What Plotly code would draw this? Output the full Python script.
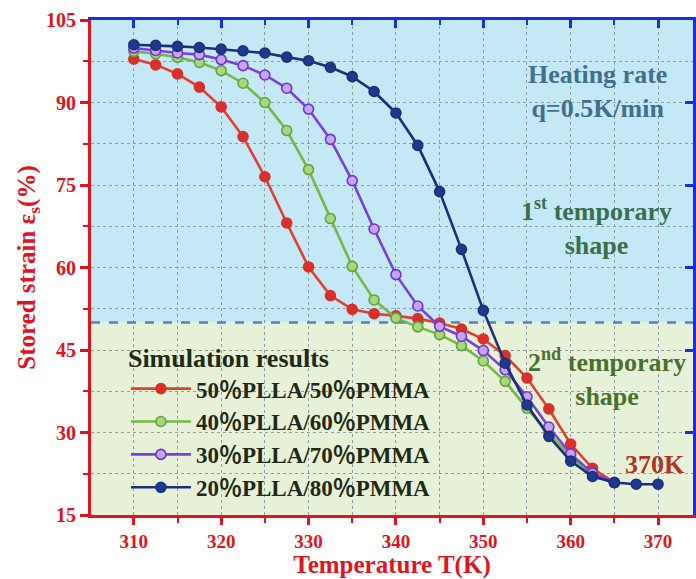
import plotly.graph_objects as go

temps = [310 + 2.5 * i for i in range(25)]  # 310 ... 370

s50 = [97.9, 96.85, 95.2, 92.8, 89.2, 83.8, 76.5, 68.1, 60.1, 54.9, 52.4, 51.6, 51.2,
       50.7, 49.9, 48.8, 47.0, 44.0, 39.9, 34.3, 27.9, 23.5, 20.9]
s40 = [99.3, 98.85, 98.2, 97.3, 95.8, 93.5, 90.0, 84.9, 77.8, 68.9, 60.2, 54.1, 50.8,
       49.2, 47.8, 45.8, 43.0, 39.3, 34.4, 29.9, 25.6, 22.3, 20.9]
s30 = [99.9, 99.45, 99.0, 98.7, 97.8, 96.7, 95.0, 92.6, 88.8, 83.3, 75.8, 67.0, 58.7,
       53.0, 49.3, 47.5, 44.9, 41.4, 36.5, 31.0, 26.1, 22.6, 20.9]
s20 = [100.5, 100.4, 100.2, 100.0, 99.7, 99.4, 99.0, 98.25, 97.6, 96.4, 94.7, 92.0, 88.1,
       82.2, 73.8, 63.3, 52.2, 42.6, 35.0, 29.3, 24.8, 22.0, 20.9, 20.6, 20.6]

names = ["50％PLLA/50％PMMA", "40％PLLA/60％PMMA",
         "30％PLLA/70％PMMA", "20％PLLA/80％PMMA"]
line_colors = ["#e2402c", "#74b846", "#7a3fe2", "#1d2f7c"]
marker_fill = ["#d8302a", "#a9d67e", "#c7a3f4", "#1d3a8e"]
marker_edge = ["#d8302a", "#62a53a", "#6f36d6", "#1d2f7c"]
series = [s50, s40, s30, s20]

y_ticks = [15, 30, 45, 60, 75, 90, 105]
x_ticks = [310, 320, 330, 340, 350, 360, 370]

SERIF = "Liberation Serif"
RED = "#e0141e"
BLUE = "#1a2ee8"

fig = go.Figure()

for name, ys, lc, mf, me in zip(names, series, line_colors, marker_fill, marker_edge):
    fig.add_trace(go.Scatter(
        x=temps[:len(ys)], y=ys, name=name, mode="lines+markers",
        line=dict(color=lc, width=2.6),
        marker=dict(size=10, color=mf, line=dict(color=me, width=1.6)),
    ))

# invisible trace for the mirrored (top/right) axes
fig.add_trace(go.Scatter(x=[temps[0]], y=[y_ticks[0]], xaxis="x2", yaxis="y2",
                         mode="markers", marker=dict(opacity=0), showlegend=False,
                         hoverinfo="skip"))

xr = [305.1, 374.0]
yr = [15, 105]

fig.update_layout(
    width=696, height=579,
    margin=dict(l=91, r=3, t=20, b=64),
    paper_bgcolor="white", plot_bgcolor="white",
    showlegend=True,
    legend=dict(
        x=0.058, y=0.367, xanchor="left", yanchor="top",
        bgcolor="rgba(0,0,0,0)",
        title=dict(text="Simulation results",
                   font=dict(family=SERIF, size=26, color="#1f2a12", weight="bold")),
        font=dict(family=SERIF + ", Noto Sans CJK SC", size=23, color="#1f2a12", weight="bold"),
        itemwidth=60, tracegroupgap=0,
    ),
    xaxis=dict(
        range=xr, tickvals=x_ticks, ticks="outside", ticklen=7, tickwidth=2.5,
        tickcolor=RED, showline=True, linecolor=RED, linewidth=3,
        tickfont=dict(family=SERIF, size=19, color=RED, weight="bold"),
        showgrid=True, gridcolor="#8e9ea2", gridwidth=1, griddash="dot",
        minor=dict(dtick=5, tick0=305, ticks="outside", ticklen=5, tickwidth=2,
                   tickcolor=RED, showgrid=True, gridcolor="#8e9ea2", griddash="dot"),
        zeroline=False,
        title=dict(text="Temperature T(K)", standoff=5,
                   font=dict(family=SERIF, size=25, color=RED, weight="bold")),
    ),
    yaxis=dict(
        range=yr, tickvals=y_ticks, ticks="outside", ticklen=8, tickwidth=2.5,
        tickcolor=RED, showline=True, linecolor=RED, linewidth=3,
        tickfont=dict(family=SERIF, size=20, color=RED, weight="bold"),
        showgrid=True, gridcolor="#8e9ea2", gridwidth=1, griddash="dot",
        minor=dict(dtick=7.5, tick0=15, ticks="outside", ticklen=5, tickwidth=2,
                   tickcolor=RED, showgrid=True, gridcolor="#8e9ea2", griddash="dot"),
        zeroline=False,
        title=dict(text="Stored strain ε<sub>s</sub>(%)", standoff=4,
                   font=dict(family=SERIF, size=25, color=RED, weight="bold")),
    ),
    xaxis2=dict(
        overlaying="x", side="top", range=xr, tickvals=x_ticks, ticks="inside",
        ticklen=8, tickwidth=2.5, tickcolor=BLUE, showline=True, linecolor=BLUE,
        linewidth=3, showticklabels=False, showgrid=False, zeroline=False,
        minor=dict(dtick=5, tick0=305, ticks="inside", ticklen=5, tickwidth=2,
                   tickcolor=BLUE),
    ),
    yaxis2=dict(
        overlaying="y", side="right", range=yr, tickvals=y_ticks, ticks="inside",
        ticklen=8, tickwidth=2.5, tickcolor=BLUE, showline=True, linecolor=BLUE,
        linewidth=3, showticklabels=False, showgrid=False, zeroline=False,
    ),
)

# background regions and divider
fig.add_shape(type="rect", xref="x", yref="y", x0=xr[0], x1=xr[1], y0=50, y1=105,
              fillcolor="#c4e8f6", line=dict(width=0), layer="below")
fig.add_shape(type="rect", xref="x", yref="y", x0=xr[0], x1=xr[1], y0=15, y1=50,
              fillcolor="#e6f1d8", line=dict(width=0), layer="below")
fig.add_shape(type="line", xref="x", yref="y", x0=xr[0], x1=xr[1], y0=50, y1=50,
              line=dict(color="#5683ac", width=2.5, dash="dash"), layer="between")

def ann(text, x, y, color, size=26):
    fig.add_annotation(text=text, x=x, y=y, xref="x", yref="y", showarrow=False,
                       font=dict(family=SERIF, size=size, color=color, weight="bold"),
                       align="center")

ann("Heating rate<br>q=0.5K/min", 363.1, 92.0, "#41718a")
ann("1<sup>st</sup> temporary<br>shape", 363.0, 67.4, "#3a6e4e")
ann("2<sup>nd</sup> temporary<br>shape", 364.2, 40.0, "#4b6f2e")
ann("370K", 369.7, 24.1, "#b23325", size=26)

fig.write_html("out.html")
